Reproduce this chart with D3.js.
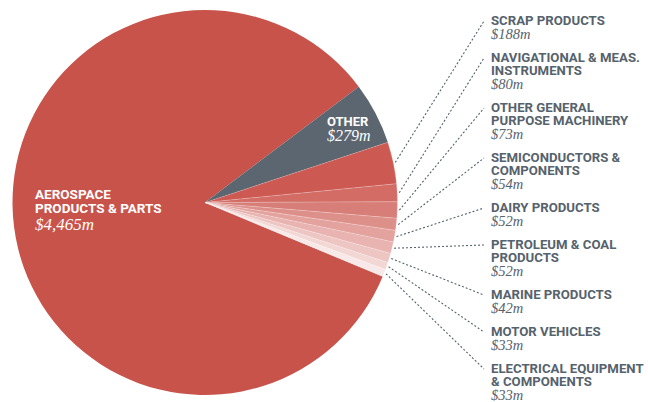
<!DOCTYPE html>
<html>
<head>
<meta charset="utf-8">
<script src="https://cdn.jsdelivr.net/npm/d3@7"></script>
<style>
  html, body { margin: 0; padding: 0; background: #fff; }
</style>
</head>
<body>
<div id="chartarea"></div>
<script>
// export values, $m
const names = ['AEROSPACE PRODUCTS & PARTS', 'OTHER', 'SCRAP PRODUCTS', 'NAVIGATIONAL & MEAS. INSTRUMENTS',
    'OTHER GENERAL PURPOSE MACHINERY', 'SEMICONDUCTORS & COMPONENTS', 'DAIRY PRODUCTS',
    'PETROLEUM & COAL PRODUCTS', 'MARINE PRODUCTS', 'MOTOR VEHICLES', 'ELECTRICAL EQUIPMENT & COMPONENTS'];
const values = [4465, 279, 188, 80, 73, 54, 52, 52, 42, 33, 33];
// how the outside labels wrap
const labelLines = [
    ['SCRAP PRODUCTS'],
    ['NAVIGATIONAL & MEAS.', 'INSTRUMENTS'],
    ['OTHER GENERAL', 'PURPOSE MACHINERY'],
    ['SEMICONDUCTORS &', 'COMPONENTS'],
    ['DAIRY PRODUCTS'],
    ['PETROLEUM & COAL', 'PRODUCTS'],
    ['MARINE PRODUCTS'],
    ['MOTOR VEHICLES'],
    ['ELECTRICAL EQUIPMENT', '& COMPONENTS']
];

const width = 648, height = 402;
const cx = 205, cy = 202.5, radius = 192.5;
const grey = '#56626c';
const titleFont = 'Roboto, "Liberation Sans", sans-serif';
const valueFont = '"Liberation Serif", "DejaVu Serif", serif';
const fmt = v => d3.format('$,')(v) + 'm';

const data = names.map((name, i) => ({ name, value: values[i], i }));
const total = d3.sum(values);

// other slices start at ~53deg clockwise from 12 o'clock, aerospace ends there
const a0 = 53 * Math.PI / 180;
const aeroAngle = 2 * Math.PI * values[0] / total;

const pie = d3.pie()
    .sort(null)
    .value(d => d.value)
    .startAngle(a0 - aeroAngle)
    .endAngle(a0 - aeroAngle + 2 * Math.PI);

const arcs = pie(data);

const shade = d3.scaleLinear()
    .domain([2, 10])
    .range(['#cd5a52', '#f8e9e8'])
    .interpolate(d3.interpolateRgb);

const color = d => d.i === 0 ? '#c8534a' : d.i === 1 ? '#5b6670' : shade(d.i);

const svg = d3.select('#chartarea')
    .append('svg')
        .attr('width', width)
        .attr('height', height);

const g = svg.append('g')
    .attr('transform', `translate(${cx}, ${cy})`);

const arc = d3.arc().innerRadius(0).outerRadius(radius);

g.selectAll('path')
    .data(arcs)
    .enter()
    .append('path')
        .attr('d', arc)
        .attr('fill', d => color(d.data))
        .attr('stroke', d => d.data.i > 1 ? 'rgba(255,255,255,0.3)' : 'none')
        .attr('stroke-width', 0.6);

// labels inside the pie
const aero = svg.append('text')
    .attr('fill', '#fff');
aero.append('tspan')
    .attr('x', 35).attr('y', 199)
    .attr('font-family', titleFont).attr('font-weight', 700).attr('font-size', 13.5)
    .text('AEROSPACE');
aero.append('tspan')
    .attr('x', 35).attr('y', 213)
    .attr('font-family', titleFont).attr('font-weight', 700).attr('font-size', 13.5)
    .text('PRODUCTS & PARTS');
aero.append('tspan')
    .attr('x', 35).attr('y', 230)
    .attr('font-family', valueFont).attr('font-style', 'italic').attr('font-size', 17)
    .text(fmt(values[0]));

const other = svg.append('text').attr('fill', '#fff');
other.append('tspan')
    .attr('x', 327).attr('y', 126)
    .attr('font-family', titleFont).attr('font-weight', 700).attr('font-size', 13)
    .text('OTHER');
other.append('tspan')
    .attr('x', 327).attr('y', 141)
    .attr('font-family', valueFont).attr('font-style', 'italic').attr('font-size', 16)
    .text(fmt(values[1]));

// outside labels with dotted leaders
const labelX = 491, lineEndX = 484;
let y = 25;
arcs.slice(2).forEach((d, k) => {
    const lines = labelLines[k];
    const mid = (d.startAngle + d.endAngle) / 2;
    const r0 = radius + 2;
    const sx = cx + r0 * Math.sin(mid), sy = cy - r0 * Math.cos(mid);

    svg.append('line')
        .attr('x1', sx).attr('y1', sy)
        .attr('x2', lineEndX).attr('y2', y - 4)
        .attr('stroke', grey)
        .attr('stroke-width', 1.1)
        .attr('stroke-dasharray', '2,2');

    const t = svg.append('text').attr('fill', grey);
    lines.forEach((ln, j) => {
        t.append('tspan')
            .attr('x', labelX).attr('y', y + j * 13)
            .attr('font-family', titleFont).attr('font-weight', 700).attr('font-size', 13.2)
            .text(ln);
    });
    t.append('tspan')
        .attr('x', labelX).attr('y', y + (lines.length - 1) * 13 + 14)
        .attr('font-family', valueFont).attr('font-style', 'italic').attr('font-size', 14.5)
        .text(fmt(d.data.value));

    y += lines.length * 13 + 24;
});
</script>
</body>
</html>
